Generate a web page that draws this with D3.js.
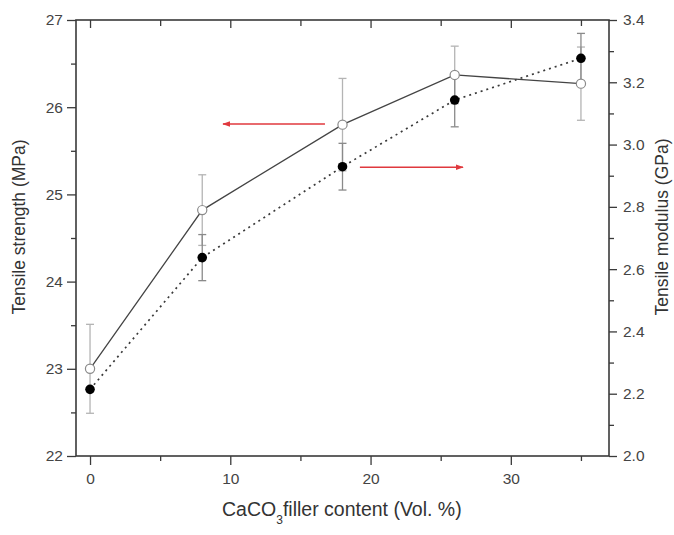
<!DOCTYPE html>
<html>
<head>
<meta charset="utf-8">
<script src="https://cdn.jsdelivr.net/npm/d3@7"></script>
<style>
  html, body { margin: 0; padding: 0; background: #fff; }
  svg { display: block; font-family: "Liberation Sans", Arial, sans-serif; }
</style>
</head>
<body>
<svg id="chart" width="674" height="535"></svg>
<script>
// ---- data ----
const fillerContent = [0, 8, 18, 26, 35];
const tensileStrength = [23.0, 24.82, 25.80, 26.37, 26.27];
const strengthError = [0.51, 0.405, 0.53, 0.33, 0.42];
const tensileModulus = [2.214, 2.637, 2.929, 3.143, 3.277];
const modulusError = [0, 0.074, 0.075, 0.086, 0.080];
const xTickValues = [0, 10, 20, 30];
const leftTickValues = [22, 23, 24, 25, 26, 27];
const rightTickValues = [2.0, 2.2, 2.4, 2.6, 2.8, 3.0, 3.2, 3.4];
// annotation arrows (in data units of x and left axis)
const arrowFrom = [[16.75, 25.807], [19.24, 25.311]];
const arrowTo = [[9.48, 25.807], [26.59, 25.311]];

const svg = d3.select("#chart");
const mLeft = 76, mRight = 609, mTop = 20, mBottom = 456;

const x = d3.scaleLinear().domain([-1, 37]).range([mLeft, mRight]);
const yL = d3.scaleLinear().domain([22, 27]).range([mBottom, mTop]);
const yR = d3.scaleLinear().domain([2.0, 3.4]).range([mBottom, mTop]);

const axisColor = "#3a3a3a";
const tickFont = "15.5px";

// defs: arrow marker
svg.append("defs").append("marker")
  .attr("id", "arr").attr("viewBox", "0 0 10 10")
  .attr("refX", 9).attr("refY", 5)
  .attr("markerWidth", 5).attr("markerHeight", 5)
  .attr("orient", "auto")
  .append("path").attr("d", "M0,1.5 L10,5 L0,8.5 Z").attr("fill", "#e0393e");

// ---- axes ----
function styleAxis(g) {
  g.selectAll(".domain").remove();
  g.selectAll(".tick line").attr("stroke", axisColor).attr("stroke-width", 1.3);
  g.selectAll(".tick text").attr("fill", "#444").style("font-size", tickFont);
}
// bottom
svg.append("g").attr("transform", `translate(0,${mBottom})`)
  .call(d3.axisBottom(x).tickValues(xTickValues).tickSize(9).tickPadding(8).tickFormat(d3.format("d")))
  .call(styleAxis);
svg.append("g").attr("transform", `translate(0,${mBottom})`)
  .call(d3.axisBottom(x).tickValues([5, 15, 25, 35]).tickSize(5).tickFormat(""))
  .call(styleAxis);
// top ticks inward
svg.append("g").attr("transform", `translate(0,${mTop})`)
  .call(d3.axisBottom(x).tickValues(xTickValues).tickSize(8).tickFormat(""))
  .call(styleAxis);
svg.append("g").attr("transform", `translate(0,${mTop})`)
  .call(d3.axisBottom(x).tickValues([5, 15, 25, 35]).tickSize(6).tickFormat(""))
  .call(styleAxis);
// left
svg.append("g").attr("transform", `translate(${mLeft},0)`)
  .call(d3.axisLeft(yL).tickValues(leftTickValues).tickSize(9).tickPadding(4).tickFormat(d3.format("d")))
  .call(styleAxis);
svg.append("g").attr("transform", `translate(${mLeft},0)`)
  .call(d3.axisLeft(yL).tickValues([22.5, 23.5, 24.5, 25.5, 26.5]).tickSize(5).tickFormat(""))
  .call(styleAxis);
// right
svg.append("g").attr("transform", `translate(${mRight},0)`)
  .call(d3.axisRight(yR).tickValues(rightTickValues).tickSize(8).tickPadding(6).tickFormat(d3.format(".1f")))
  .call(styleAxis);
svg.append("g").attr("transform", `translate(${mRight},0)`)
  .call(d3.axisRight(yR).tickValues([2.1, 2.3, 2.5, 2.7, 2.9, 3.1, 3.3]).tickSize(5).tickFormat(""))
  .call(styleAxis);

// frame
svg.append("rect").attr("x", mLeft).attr("y", mTop)
  .attr("width", mRight - mLeft).attr("height", mBottom - mTop)
  .attr("fill", "none").attr("stroke", axisColor).attr("stroke-width", 1.6);

// ---- error bars ----
function errorBars(vals, errs, scale, color) {
  const g = svg.append("g").attr("stroke", color).attr("stroke-width", 1.3).attr("fill", "none");
  fillerContent.forEach((xv, i) => {
    if (!errs[i]) return;
    const cx = x(xv), y1 = scale(vals[i] + errs[i]), y2 = scale(vals[i] - errs[i]);
    g.append("line").attr("x1", cx).attr("x2", cx).attr("y1", y1).attr("y2", y2);
    g.append("line").attr("x1", cx - 4).attr("x2", cx + 4).attr("y1", y1).attr("y2", y1);
    g.append("line").attr("x1", cx - 4).attr("x2", cx + 4).attr("y1", y2).attr("y2", y2);
  });
}
errorBars(tensileStrength, strengthError, yL, "#b4b4b4");
errorBars(tensileModulus, modulusError, yR, "#8a8a8a");

// ---- lines ----
const strengthLine = d3.line().x((d, i) => x(fillerContent[i])).y(d => yL(d));
const modulusLine = d3.line().x((d, i) => x(fillerContent[i])).y(d => yR(d));
svg.append("path").datum(tensileModulus).attr("d", modulusLine)
  .attr("fill", "none").attr("stroke", "#3a3a3a").attr("stroke-width", 1.7)
  .attr("stroke-dasharray", "2,4");
svg.append("path").datum(tensileStrength).attr("d", strengthLine)
  .attr("fill", "none").attr("stroke", "#444").attr("stroke-width", 1.3);

// ---- markers ----
svg.append("g").selectAll("circle").data(tensileModulus).join("circle")
  .attr("cx", (d, i) => x(fillerContent[i])).attr("cy", d => yR(d))
  .attr("r", 4.8).attr("fill", "#000");
svg.append("g").selectAll("circle").data(tensileStrength).join("circle")
  .attr("cx", (d, i) => x(fillerContent[i])).attr("cy", d => yL(d))
  .attr("r", 4.6).attr("fill", "#fff").attr("stroke", "#8a8a8a").attr("stroke-width", 1.2);

// ---- arrows ----
arrowFrom.forEach((f, i) => {
  const t = arrowTo[i];
  svg.append("line")
    .attr("x1", x(f[0])).attr("y1", yL(f[1]))
    .attr("x2", x(t[0])).attr("y2", yL(t[1]))
    .attr("stroke", "#e0393e").attr("stroke-width", 1.6)
    .attr("marker-end", "url(#arr)");
});

// ---- axis titles ----
const xt = svg.append("text").attr("x", 222).attr("y", 516)
  .attr("fill", "#333").style("font-size", "19.5px");
xt.append("tspan").text("CaCO");
xt.append("tspan").text("3").style("font-size", "12px").attr("dy", 8);
xt.append("tspan").text("filler content (Vol. %)").attr("dy", -8);

svg.append("text").attr("transform", `translate(25,227) rotate(-90)`)
  .attr("text-anchor", "middle").attr("fill", "#333").style("font-size", "17.5px")
  .text("Tensile strength (MPa)");
svg.append("text").attr("transform", `translate(668,227) rotate(-90)`)
  .attr("text-anchor", "middle").attr("fill", "#333").style("font-size", "17.5px")
  .text("Tensile modulus (GPa)");
</script>
</body>
</html>
